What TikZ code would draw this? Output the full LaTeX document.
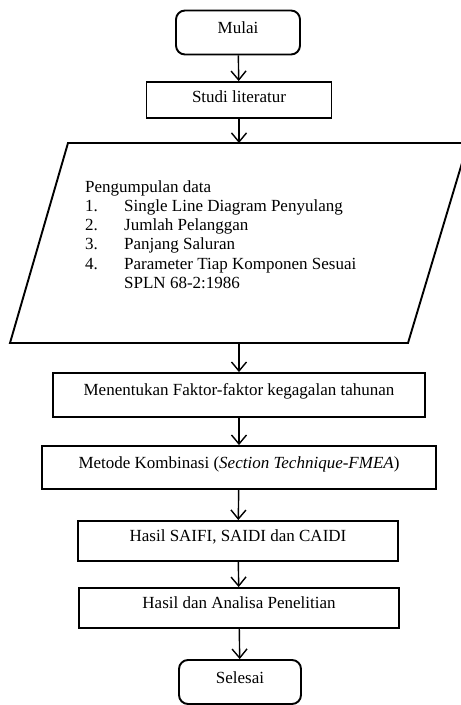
\documentclass[tikz,border=0pt]{standalone}
\usepackage{fontspec}
\setmainfont{Liberation Serif}
\usepackage{tikz}
\usetikzlibrary{arrows.meta, positioning}

\begin{document}
\begin{tikzpicture}[x=1pt, y=-1pt,
        terminal/.style={draw, line width=1.9pt, rounded corners=9pt, minimum width=124pt, minimum height=44pt, text height=12pt, text depth=10pt, font=\fontsize{17}{19}\selectfont},
        process/.style={draw, line width=1.9pt, minimum height=42pt, text height=12pt, text depth=11pt, align=center, font=\fontsize{17}{19}\selectfont},
        arrow/.style={-{Straight Barb[length=9pt, width=15pt]}, line width=1.4pt}
    ]
        \useasboundingbox (0,0) rectangle (461,705);
        \node[terminal] (mulai) at (238,32.5) {Mulai};
        \node[process, minimum width=185pt, minimum height=36pt, text depth=8pt] (studi) at (239,100) {Studi literatur};
        % data input (parallelogram)
        \draw[line width=1.9pt] (68,143) -- (468,143) -- (408,343) -- (10,343) -- cycle;
        \coordinate (datatop) at (239,143);
        \coordinate (databot) at (239,343);
        \node[anchor=north west, align=left, inner sep=0pt, font=\fontsize{17}{19.3}\selectfont] (datatext) at (85,180) {%
            Pengumpulan data\\
            \makebox[39pt][l]{1.}Single Line Diagram Penyulang\\
            \makebox[39pt][l]{2.}Jumlah Pelanggan\\
            \makebox[39pt][l]{3.}Panjang Saluran\\
            \makebox[39pt][l]{4.}Parameter Tiap Komponen Sesuai\\
            \hspace*{39pt}SPLN 68-2:1986};
        \node[process, minimum width=372pt, minimum height=44pt] (faktor) at (239,395) {Menentukan Faktor-faktor kegagalan tahunan};
        \node[process, minimum width=394pt, minimum height=43pt] (metode) at (239,467.5) {Metode Kombinasi (\textit{Section Technique-FMEA})};
        \node[process, minimum width=320pt, minimum height=40pt] (hasil) at (238,541) {Hasil SAIFI, SAIDI dan CAIDI};
        \node[process, minimum width=320pt, minimum height=40pt] (analisa) at (239,608) {Hasil dan Analisa Penelitian};
        \node[terminal, minimum width=122pt] (selesai) at (240,682) {Selesai};

        \draw[arrow] (mulai) -- (studi);
        \draw[arrow] (studi) -- (datatop);
        \draw[arrow] (databot) -- (faktor);
        \draw[arrow] (faktor) -- (metode);
        \draw[arrow] (metode) -- (hasil);
        \draw[arrow] (hasil) -- (analisa);
        \draw[arrow] (analisa) -- (selesai);
    \end{tikzpicture}
\end{document}
